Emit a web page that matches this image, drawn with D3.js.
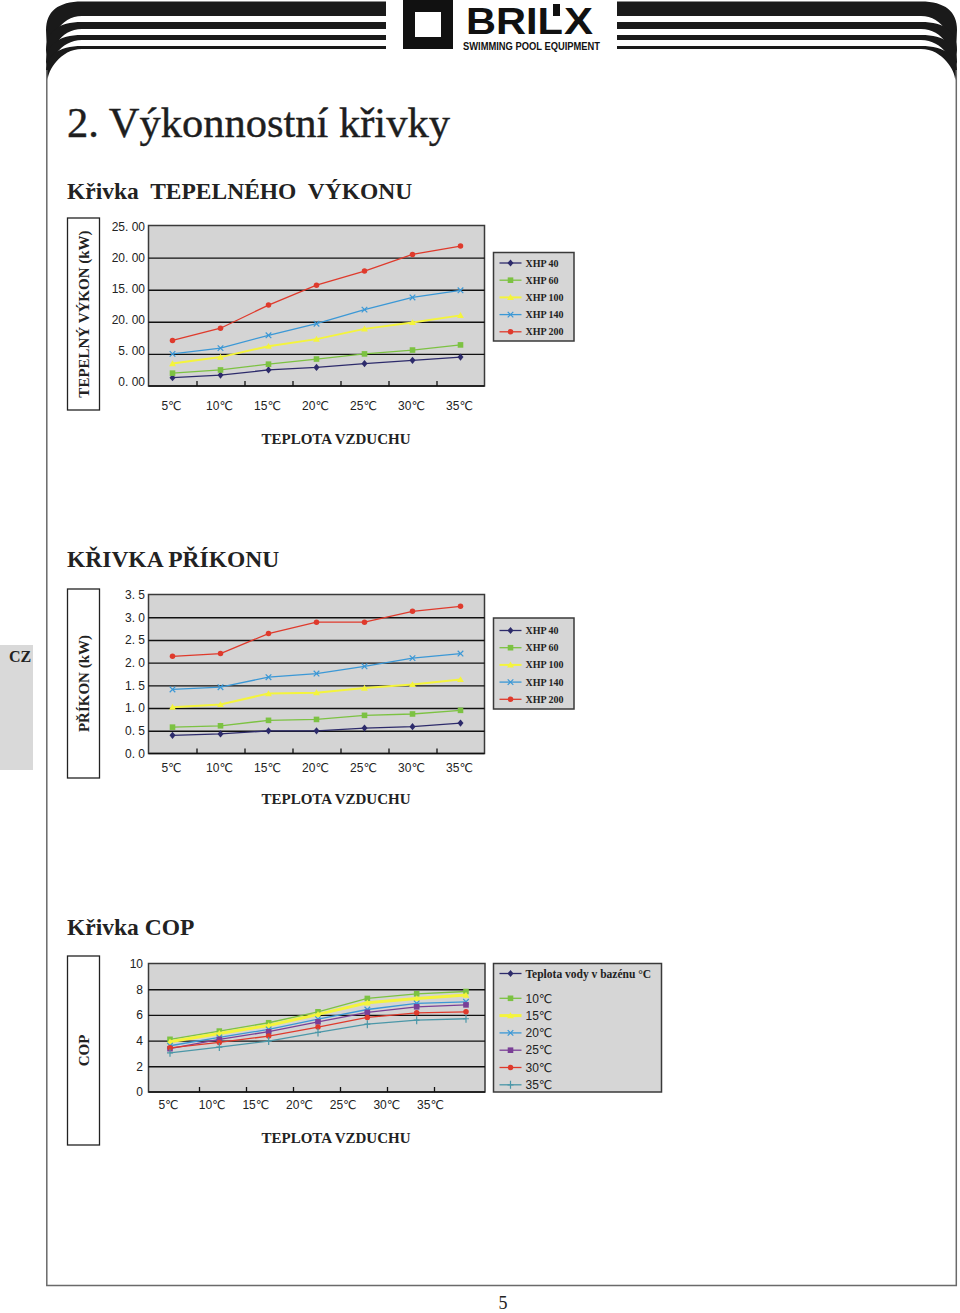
<html>
    <head>
        <script src="https://d3js.org/d3.v7.min.js"></script>
        <title>Výkonnostní křivky</title>
        <style>
            body { margin: 0; background: #fff; }
        </style>
    </head>
    <body>
        <div id="chart"></div>
        <script>
            const temps = ["5℃", "10℃", "15℃", "20℃", "25℃", "30℃", "35℃"];
            const models = ["XHP 40", "XHP 60", "XHP 100", "XHP 140", "XHP 200"];

            // tepelny vykon (kW)
            const heat40  = [1.3, 1.7, 2.5, 2.9, 3.5, 4.0, 4.5];
            const heat60  = [2.0, 2.5, 3.4, 4.2, 5.0, 5.6, 6.4];
            const heat100 = [3.5, 4.5, 6.2, 7.3, 8.9, 9.9, 11.0];
            const heat140 = [5.0, 5.9, 7.9, 9.7, 11.9, 13.8, 14.9];
            const heat200 = [7.1, 9.0, 12.6, 15.7, 17.9, 20.5, 21.8];
            const heatTicks = [0, 5, 10, 15, 20, 25];
            const heatTickLabels = ["0. 00", "5. 00", "20. 00", "15. 00", "20. 00", "25. 00"];

            // prikon (kW)
            const power40  = [0.40, 0.43, 0.50, 0.50, 0.56, 0.59, 0.67];
            const power60  = [0.58, 0.61, 0.73, 0.75, 0.84, 0.87, 0.95];
            const power100 = [1.02, 1.08, 1.32, 1.34, 1.44, 1.52, 1.63];
            const power140 = [1.41, 1.46, 1.68, 1.76, 1.92, 2.10, 2.20];
            const power200 = [2.14, 2.20, 2.64, 2.89, 2.89, 3.13, 3.24];
            const powerTicks = [0, 0.5, 1, 1.5, 2, 2.5, 3, 3.5];
            const powerTickLabels = ["0. 0", "0. 5", "1. 0", "1. 5", "2. 0", "2. 5", "3. 0", "3. 5"];

            // COP podle teploty vody
            const waterTemps = ["10℃", "15℃", "20℃", "25℃", "30℃", "35℃"];
            const cop10 = [4.10, 4.74, 5.39, 6.24, 7.28, 7.64, 7.82];
            const cop15 = [3.91, 4.56, 5.18, 6.04, 6.94, 7.28, 7.54];
            const cop20 = [3.60, 4.25, 4.87, 5.67, 6.42, 6.89, 7.02];
            const cop25 = [3.37, 4.10, 4.69, 5.46, 6.19, 6.63, 6.78];
            const cop30 = [3.44, 3.86, 4.35, 5.05, 5.80, 6.16, 6.24];
            const cop35 = [3.05, 3.50, 3.96, 4.64, 5.28, 5.59, 5.70];
            const copTicks = [0, 2, 4, 6, 8, 10];
            const copTickLabels = ["0", "2", "4", "6", "8", "10"];

            const serif = "'Liberation Serif', 'Times New Roman', serif";
            const sans = "'Liberation Sans', Arial, 'DejaVu Sans', sans-serif";

            const navy = "#2d2b6b", green = "#7cc242", yellow = "#f4f43c",
                  blue = "#3b98d6", red = "#df3a2c", purple = "#7a3f96", teal = "#4b97a8";

            const w = 960;
            const h = 1313;

            const svg = d3.select("#chart").append("svg")
                            .attr("width", w)
                            .attr("height", h);

            // ---------- page frame + header ----------
            const stripes = [[1.5, 16, 30, 72], [22, 29, 50, 75], [35, 40, 62, 77], [46, 49, 70, 80]];
            const stripePath = (s) => {
                const [t, b, oy, iy] = s;
                return "M386," + t + "H82C58," + t + " 46," + (t + 10) + " 46," + oy +
                       "L47.8," + iy + "C47.8," + (b + 22) + " 60," + b + " 82," + b + "H386Z";
            };
            svg.append("g").selectAll("path").data(stripes).enter().append("path")
                .attr("d", stripePath).attr("fill", "#1a1a1a");
            svg.append("g").attr("transform", "translate(1003,0) scale(-1,1)")
                .selectAll("path").data(stripes).enter().append("path")
                .attr("d", stripePath).attr("fill", "#1a1a1a");

            svg //frame
                .append("path")
                .attr("d", "M46.8,70V1285.5H956.3V70")
                .attr("fill", "none")
                .attr("stroke", "#6a6a6a")
                .attr("stroke-width", 1.5);

            // logo
            svg.append("rect").attr("x", 409).attr("y", 6).attr("width", 38).attr("height", 37)
                .attr("fill", "none").attr("stroke", "#111").attr("stroke-width", 12);
            svg.append("text").attr("x", 466).attr("y", 33.5)
                .attr("font-family", "'Liberation Sans Narrow', " + sans).attr("font-weight", "bold")
                .attr("font-size", 37).attr("textLength", 97).attr("lengthAdjust", "spacingAndGlyphs")
                .attr("fill", "#111").text("BRIL");
            svg.append("rect").attr("x", 553).attr("y", 4).attr("width", 7).attr("height", 12).attr("fill", "#111");
            svg.append("text").attr("x", 564).attr("y", 33.5)
                .attr("font-family", "'Liberation Sans Narrow', " + sans).attr("font-weight", "bold")
                .attr("font-size", 37).attr("textLength", 29).attr("lengthAdjust", "spacingAndGlyphs")
                .attr("fill", "#111").text("X");
            svg.append("text").attr("x", 463).attr("y", 49.5)
                .attr("font-family", sans).attr("font-weight", "bold").attr("font-size", 10.5)
                .attr("textLength", 137).attr("lengthAdjust", "spacingAndGlyphs")
                .attr("fill", "#111").text("SWIMMING POOL EQUIPMENT");

            svg //CZ tab
                .append("rect").attr("x", 0).attr("y", 645).attr("width", 33).attr("height", 125).attr("fill", "#d9d9d9");
            svg.append("text").attr("x", 20).attr("y", 662).attr("text-anchor", "middle")
                .attr("font-family", serif).attr("font-weight", "bold").attr("font-size", 16)
                .attr("fill", "#222").text("CZ");

            svg //title
                .append("text").attr("x", 67).attr("y", 137)
                .attr("font-family", serif).attr("font-size", 42.5).attr("fill", "#1e1e1e")
                .attr("stroke", "#1e1e1e").attr("stroke-width", 0.4)
                .text("2. Výkonnostní křivky");

            const headings = [["Křivka  TEPELNÉHO  VÝKONU", 199], ["KŘIVKA PŘÍKONU", 567], ["Křivka COP", 935]];
            svg.append("g").selectAll("text").data(headings).enter().append("text")
                .attr("x", 67).attr("y", d => d[1])
                .style("white-space", "pre")
                .attr("font-family", serif).attr("font-weight", "bold").attr("font-size", 23.5)
                .attr("fill", "#222").text(d => d[0]);

            svg //page number
                .append("text").attr("x", 503).attr("y", 1308.5).attr("text-anchor", "middle")
                .attr("font-family", serif).attr("font-size", 18).attr("fill", "#222").text("5");

            // ---------- markers ----------
            const markerPath = {
                diamond: "M0,-3.6L3,0L0,3.6L-3,0Z",
                square: "M-2.8,-2.8H2.8V2.8H-2.8Z",
                triangle: "M0,-3.3L3.4,2.6L-3.4,2.6Z",
                circle: d3.symbol(d3.symbolCircle, 24)(),
                x: "M-2.8,-2.8L2.8,2.8M2.8,-2.8L-2.8,2.8",
                plus: "M0,-4V4M-3,0H3"
            };
            const stroked = (m) => m === "x" || m === "plus";

            function drawMarker(sel, m, color) {
                sel.append("path")
                    .attr("d", markerPath[m])
                    .attr("fill", stroked(m) ? "none" : color)
                    .attr("stroke", stroked(m) ? color : "none")
                    .attr("stroke-width", 1.2);
            }

            // ---------- chart ----------
            function drawChart(o) {
                const g = svg.append("g");
                const y = d3.scaleLinear().domain([0, o.yMax]).range([o.bottom, o.top]);
                const yLab = d3.scaleLinear().domain([0, o.yMax]).range(o.yLabelRange || [o.bottom, o.top]);
                const x = d3.scalePoint().domain(temps).range(o.pointRange);
                const tickScale = d3.scaleLinear().domain([0, temps.length]).range(o.tickRange);
                const labelScale = d3.scalePoint().domain(temps).range(o.labelRange);

                g //plot area
                    .append("rect")
                    .attr("x", o.left).attr("y", o.top)
                    .attr("width", o.right - o.left).attr("height", o.bottom - o.top)
                    .attr("fill", "#d4d4d4")
                    .attr("stroke", "#3a3a3a")
                    .attr("stroke-width", 1.5);

                g //gridlines
                    .append("g")
                    .attr("transform", "translate(" + o.left + ",0)")
                    .call(d3.axisLeft(y).tickValues(o.ticks.slice(1, -1)).tickSize(-(o.right - o.left)).tickFormat(""))
                    .call(s => s.select(".domain").remove())
                    .selectAll("line").attr("stroke", "#111").attr("stroke-width", 1.4);

                g //y labels
                    .append("g")
                    .attr("transform", "translate(" + o.yLabelX + ",0)")
                    .call(d3.axisLeft(yLab).tickValues(o.ticks).tickSize(0).tickPadding(0).tickFormat((d, i) => o.tickLabels[i]))
                    .call(s => s.select(".domain").remove())
                    .selectAll("text")
                    .attr("font-family", sans).attr("font-size", 12).attr("fill", "#222");

                g //x axis line
                    .append("line")
                    .attr("x1", o.left).attr("x2", o.right)
                    .attr("y1", o.bottom).attr("y2", o.bottom)
                    .attr("stroke", "#111").attr("stroke-width", 1.5);

                g //x tick marks
                    .append("g")
                    .attr("transform", "translate(0," + o.bottom + ")")
                    .call(d3.axisBottom(tickScale).tickValues(d3.range(1, temps.length)).tickSize(-5).tickFormat(""))
                    .call(s => s.select(".domain").remove())
                    .selectAll("line").attr("stroke", "#111").attr("stroke-width", 1.3);

                g //x labels
                    .append("g")
                    .attr("transform", "translate(0," + o.xLabelY + ")")
                    .call(d3.axisBottom(labelScale).tickSize(0))
                    .call(s => s.select(".domain").remove())
                    .selectAll("text")
                    .attr("font-family", sans).attr("font-size", 12).attr("fill", "#222");

                const line = d3.line().x((d, i) => x(temps[i])).y(d => y(d));

                o.series.forEach(s => {
                    g.append("path")
                        .attr("d", line(s.values))
                        .attr("fill", "none")
                        .attr("stroke", s.color)
                        .attr("stroke-width", s.width || 1.3);
                    g.append("g").selectAll("g").data(s.values).enter().append("g")
                        .attr("transform", (d, i) => "translate(" + x(temps[i]) + "," + y(d) + ")")
                        .call(sel => drawMarker(sel, s.marker, s.color));
                });

                g //y title box
                    .append("rect")
                    .attr("x", 67.5).attr("y", o.boxTop)
                    .attr("width", 32).attr("height", o.boxH)
                    .attr("fill", "#fff").attr("stroke", "#222").attr("stroke-width", 1.3);
                g.append("text")
                    .attr("transform", "translate(84," + (o.boxTop + o.boxH / 2) + ") rotate(-90)")
                    .attr("text-anchor", "middle").attr("dy", "0.35em")
                    .attr("font-family", serif).attr("font-weight", "bold").attr("font-size", 15)
                    .attr("fill", "#222").text(o.yTitle);

                g //x title
                    .append("text")
                    .attr("x", 336).attr("y", o.xTitleY).attr("text-anchor", "middle")
                    .attr("font-family", serif).attr("font-weight", "bold").attr("font-size", 15)
                    .attr("fill", "#222").text("TEPLOTA VZDUCHU");

                // legend
                const lg = g.append("g");
                lg.append("rect")
                    .attr("x", o.legend.x).attr("y", o.legend.y)
                    .attr("width", o.legend.w).attr("height", o.legend.h)
                    .attr("fill", "#d6d6d6").attr("stroke", "#3a3a3a").attr("stroke-width", 1.5);
                const items = lg.selectAll("g.item").data(o.legend.items).enter().append("g")
                    .attr("class", "item")
                    .attr("transform", (d, i) => "translate(0," + o.legend.rowY(i) + ")");
                items.append("line")
                    .attr("x1", o.legend.x + 6).attr("x2", o.legend.x + 28)
                    .attr("stroke", d => d.color).attr("stroke-width", d => d.width || 1.3);
                items.each(function(d) {
                    d3.select(this).append("g").attr("transform", "translate(" + (o.legend.x + 17) + ",0)")
                        .call(sel => drawMarker(sel, d.marker, d.color));
                });
                items.append("text")
                    .attr("x", o.legend.x + 32).attr("dy", "0.35em")
                    .attr("font-family", d => d.sans ? sans : serif)
                    .attr("font-weight", d => d.sans ? "normal" : "bold")
                    .attr("font-size", d => d.size || 10)
                    .attr("fill", "#222")
                    .text(d => d.name);
            }

            const xhpStyles = [
                { color: navy, marker: "diamond" },
                { color: green, marker: "square" },
                { color: yellow, marker: "triangle", width: 2 },
                { color: blue, marker: "x" },
                { color: red, marker: "circle" }
            ];

            const heatSeries = [heat40, heat60, heat100, heat140, heat200]
                .map((v, i) => Object.assign({ name: models[i], values: v }, xhpStyles[i]));
            const powerSeries = [power40, power60, power100, power140, power200]
                .map((v, i) => Object.assign({ name: models[i], values: v }, xhpStyles[i]));

            drawChart({
                left: 148.5, right: 484.5, top: 225.5, bottom: 386,
                yMax: 25, ticks: heatTicks, tickLabels: heatTickLabels, yLabelX: 145, yLabelRange: [381.5, 226.5],
                pointRange: [172.5, 460.5], tickRange: [148.5, 484.5], labelRange: [171, 459], xLabelY: 398,
                series: heatSeries,
                boxTop: 218, boxH: 192, yTitle: "TEPELNÝ VÝKON (kW)", xTitleY: 444,
                legend: { x: 493.5, y: 252.5, w: 80.5, h: 88.5, items: heatSeries, rowY: i => 263 + i * 17.2 }
            });

            drawChart({
                left: 148.5, right: 484.5, top: 594.5, bottom: 753.5,
                yMax: 3.5, ticks: powerTicks, tickLabels: powerTickLabels, yLabelX: 145,
                pointRange: [172.5, 460.5], tickRange: [148.5, 484.5], labelRange: [171, 459], xLabelY: 760,
                series: powerSeries,
                boxTop: 589, boxH: 189, yTitle: "PŘÍKON (kW)", xTitleY: 804,
                legend: { x: 493.5, y: 618, w: 80.5, h: 91, items: powerSeries, rowY: i => 630.5 + i * 17.2 }
            });

            const copStyles = [
                { color: green, marker: "square" },
                { color: yellow, marker: "triangle", width: 3 },
                { color: blue, marker: "x" },
                { color: purple, marker: "square" },
                { color: red, marker: "circle" },
                { color: teal, marker: "plus" }
            ];
            const copSeries = [cop10, cop15, cop20, cop25, cop30, cop35]
                .map((v, i) => Object.assign({ name: waterTemps[i], values: v, sans: true, size: 12 }, copStyles[i]));
            const copLegend = [{ name: "Teplota vody v bazénu °C", color: navy, marker: "diamond", size: 11.5 }].concat(copSeries);

            drawChart({
                left: 148.5, right: 485, top: 963.5, bottom: 1092,
                yMax: 10, ticks: copTicks, tickLabels: copTickLabels, yLabelX: 143,
                pointRange: [170, 466], tickRange: [152, 481], labelRange: [168, 430], xLabelY: 1097,
                series: copSeries,
                boxTop: 956, boxH: 189, yTitle: "COP", xTitleY: 1143,
                legend: { x: 493.5, y: 963.5, w: 168, h: 128.5, items: copLegend,
                          rowY: i => i === 0 ? 973.5 : 981 + i * 17.3 }
            });
        </script>
    </body>
</html>
